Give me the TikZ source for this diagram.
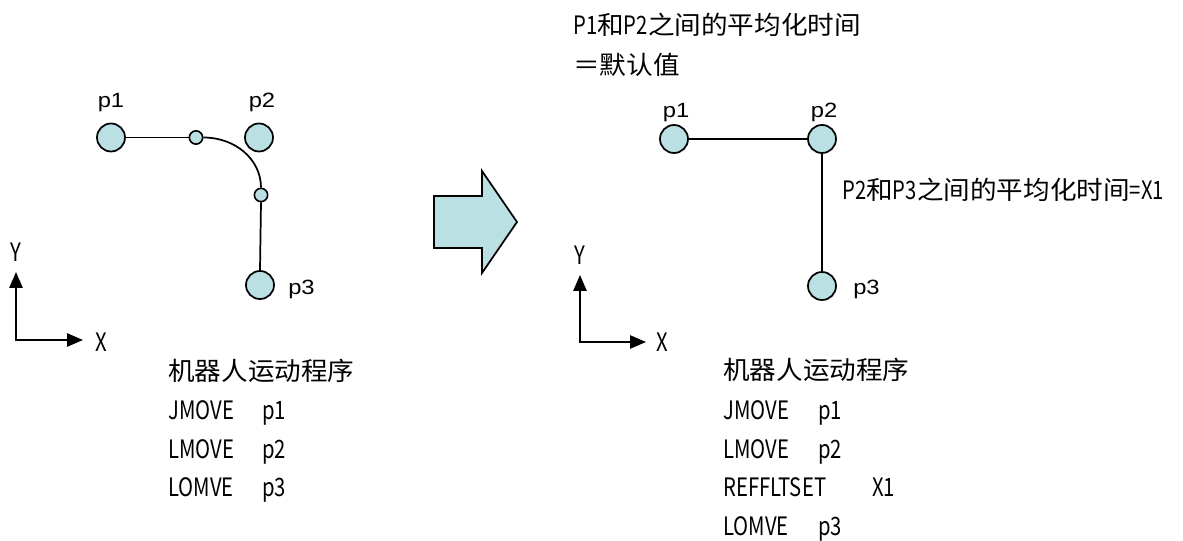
\documentclass[tikz,border=0pt]{standalone}
\usepackage{fontspec}
\setmainfont[FakeStretch=0.8]{Noto Sans CJK SC}
\newfontfamily\cjk[FakeStretch=1.05]{Noto Sans CJK SC}
\newfontfamily\labfont[FakeStretch=1.15]{Liberation Sans}
\usetikzlibrary{arrows.meta}
\definecolor{ptfill}{RGB}{187,224,227}
\tikzset{
  bigc/.style={circle, draw, fill=ptfill, minimum size=21pt, inner sep=0pt, line width=1.3pt},
  smallc/.style={circle, draw, fill=ptfill, minimum size=10pt, inner sep=0pt, line width=1.2pt},
  conn/.style={line width=1.3pt},
  axis/.style={line width=1.3pt, {Triangle[length=12pt,width=10pt]}-{Triangle[length=12pt,width=10pt]}},
  blockarrow/.style={draw, fill=ptfill, line width=1.3pt, line join=miter},
  txt/.style={anchor=base west, inner sep=0pt, font=\fontsize{19}{19}\selectfont},
  axl/.style={anchor=base, inner sep=0pt, font=\fontsize{19}{19}\selectfont},
  lab/.style={anchor=base, inner sep=0pt, font=\labfont\fontsize{15.5}{15.5}\selectfont},
  labw/.style={anchor=base west, inner sep=0pt, font=\labfont\fontsize{15.5}{15.5}\selectfont}
}
\begin{document}
\begin{tikzpicture}[x=0.75pt,y=-0.75pt]
\useasboundingbox (0,0) rectangle (1183,541);

% ---------- left diagram ----------
\node[bigc] (a1) at (111,137.5) {};
\node[bigc] (a2) at (259,137.5) {};
\node[bigc] (a3) at (260,285) {};
\node[smallc] (s1) at (196,137.5) {};
\node[smallc] (s2) at (261,195) {};
\draw[conn] (a1) -- (s1);
\draw[conn] (s1.east) .. controls +(32,0) and +(0,-28) .. (s2.north);
\draw[conn] (s2.south) -- (a3.north);
\node[lab] (la1) at (111,108) {p1};
\node[lab] (la2) at (262,108) {p2};
\node[labw] (la3) at (288,295) {p3};

% left axes
\coordinate (ly) at (16,272);
\coordinate (lx) at (83,340);
\draw[axis] (ly) |- (lx);
\node[axl] (lY) at (16,262) {Y};
\node[axl] (lX) at (101,352) {X};

% left program
\node[txt] (lh) at (168,381) {\cjk 机器人运动程序};
\node[txt] (l1) at (168,420) {JMOVE};
\node[txt] (l1p) at (262,420) {p1};
\node[txt] (l2) at (168,458.5) {LMOVE};
\node[txt] (l2p) at (262,458.5) {p2};
\node[txt] (l3) at (168,497) {LOMVE};
\node[txt] (l3p) at (262,497) {p3};

% ---------- block arrow ----------
\draw[blockarrow] (434,196) -- (482,196) -- (482,171) -- (517,222) -- (482,273) -- (482,248) -- (434,248) -- cycle;

% ---------- right diagram ----------
\node[txt] (t1) at (573,35) {P1{\cjk 和}P2{\cjk 之间的平均化时间}};
\node[txt] (t2) at (573,75) {\cjk ＝默认值};

\node[bigc] (b1) at (674,139) {};
\node[bigc] (b2) at (822,139) {};
\node[bigc] (b3) at (822,286) {};
\draw[conn] (b1) -- (b2);
\draw[conn] (b2) -- (b3);
\node[lab] (lb1) at (676,118) {p1};
\node[lab] (lb2) at (824,118) {p2};
\node[labw] (lb3) at (853,295) {p3};
\node[txt] (t3) at (842,200) {P2{\cjk 和}P3{\cjk 之间的平均化时间}=X1};

% right axes
\coordinate (ry) at (580,275);
\coordinate (rx) at (646,342);
\draw[axis] (ry) |- (rx);
\node[axl] (rY) at (580,265) {Y};
\node[axl] (rX) at (662,352) {X};

% right program
\node[txt] (rh) at (723,380) {\cjk 机器人运动程序};
\node[txt] (r1) at (723,420) {JMOVE};
\node[txt] (r1p) at (818,420) {p1};
\node[txt] (r2) at (723,458.5) {LMOVE};
\node[txt] (r2p) at (818,458.5) {p2};
\node[txt] (r3) at (723,497) {REFFLTSET};
\node[txt] (r3p) at (872,497) {X1};
\node[txt] (r4) at (723,536) {LOMVE};
\node[txt] (r4p) at (818,536) {p3};
\end{tikzpicture}
\end{document}
